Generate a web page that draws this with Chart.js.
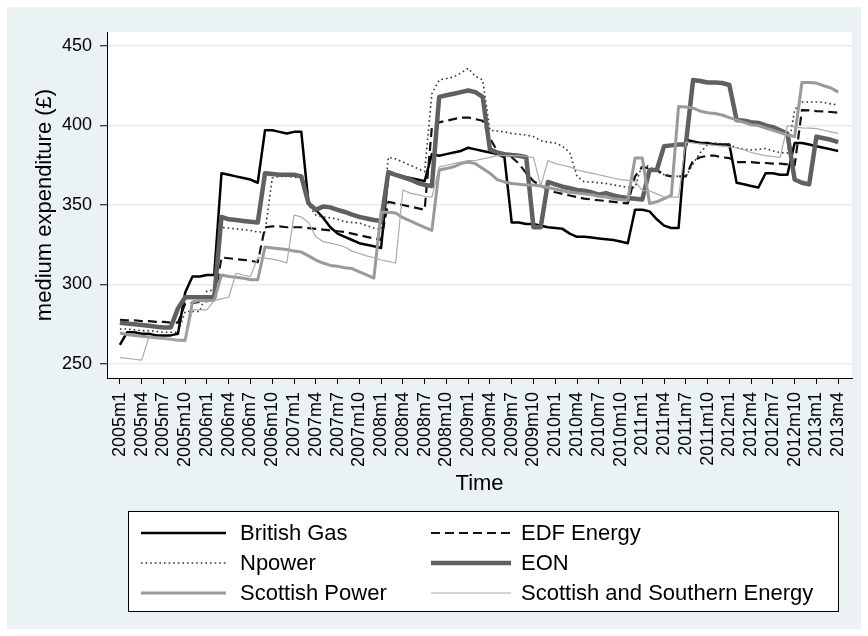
<!DOCTYPE html>
<html>
<head>
<meta charset="utf-8">
<script src="https://cdn.jsdelivr.net/npm/chart.js@4.4.1/dist/chart.umd.min.js"></script>
<style>
  html, body { margin: 0; padding: 0; background: #fff; }
  canvas { display: block; }
</style>
</head>
<body>
<canvas id="grafico" width="868" height="636"></canvas>
<script>
// Etiquetas del eje X (cada tres meses)
const etiquetasEje = ['2005m1', '2005m4', '2005m7', '2005m10', '2006m1', '2006m4', '2006m7', '2006m10',
  '2007m1', '2007m4', '2007m7', '2007m10', '2008m1', '2008m4', '2008m7', '2008m10',
  '2009m1', '2009m4', '2009m7', '2009m10', '2010m1', '2010m4', '2010m7', '2010m10',
  '2011m1', '2011m4', '2011m7', '2011m10', '2012m1', '2012m4', '2012m7', '2012m10',
  '2013m1', '2013m4'];
const ticksY = [250, 300, 350, 400, 450];

const nombres = ['British Gas', 'EDF Energy', 'Npower', 'EON', 'Scottish Power', 'Scottish and Southern Energy'];

// Un valor por mes, de 2005m1 a 2013m4 (una fila por año)
const britishGas = [
  262, 270, 270, 269, 269, 268, 268, 268, 269, 295, 305, 305,
  306, 306, 370, 369, 368, 367, 366, 364, 397, 397, 396, 395,
  396, 396, 351, 347, 342, 336, 332, 330, 328, 326, 325, 324,
  323, 370, 369, 368, 367, 366, 365, 382, 381, 382, 383, 384,
  386, 385, 384, 383, 382, 380, 339, 339, 338, 338, 337, 336,
  335.5, 335, 332, 330, 330, 329.5, 329, 328.5, 328, 327, 326, 347,
  347, 346, 341, 337, 335.5, 335.5, 391, 390, 389, 389, 388, 388,
  388, 364, 363, 362, 361, 370, 370, 369, 369, 389, 389, 388,
  387, 386, 385, 384
];
const edf = [
  277.7, 277.5, 277.5, 277, 277, 276.5, 276.5, 276, 276, 288, 288.5, 289,
  289.5, 290, 317, 316.5, 316, 315.5, 315, 314, 336, 336.5, 336.5, 336,
  336, 336, 335.5, 335, 334.5, 334, 333.5, 333, 332, 331, 330, 329,
  328, 352, 351, 350, 349, 348, 347, 399, 402, 403, 404, 405,
  405, 404, 403, 392, 384, 381, 380, 376, 370, 365, 362, 360,
  358, 357, 356, 355, 354, 353.5, 353, 352.5, 352, 351.5, 351, 368,
  374, 373, 372, 369, 368, 368, 368, 378, 380, 381, 381, 380,
  379.5, 377, 377, 377, 376.5, 376.4, 376, 376, 375.5, 375, 409.7, 409.5,
  409, 408.8, 408.5, 408
];
const npower = [
  272, 272, 271.5, 271, 271, 270.5, 270, 270, 270, 283, 283, 283,
  296, 296.5, 336, 335.5, 335, 334.5, 334, 333, 333, 367, 368, 368,
  367.5, 367, 350, 343.7, 342.5, 342, 341, 339.5, 339, 338.6, 337, 335.5,
  334.5, 380, 379, 377, 375, 373, 371, 420, 428.6, 429.5, 430.5, 433,
  436, 431, 428.6, 397, 396.5, 396, 395, 394.5, 394, 393, 390.5, 389.5,
  389, 387, 383, 368, 364.5, 364.5, 364, 363.5, 362.6, 362, 361, 361,
  376, 374, 371, 369, 368, 368, 368, 376, 383, 388, 389, 388.5,
  388, 386, 385, 384.6, 385, 385.5, 384, 383, 382.7, 410, 414.8, 414.8,
  414.8, 414.5, 413.5, 413
];
const eon = [
  276, 275.5, 275, 274.5, 274, 273.5, 273, 273, 285, 292, 292, 292,
  292, 292, 342.5, 341, 340.5, 340, 339.5, 339, 370, 369.5, 369, 369,
  369, 368, 351, 347, 349, 348.5, 347, 345.6, 344, 342.5, 341.5, 340.6,
  340, 370.7, 369, 367.6, 366, 364, 362.6, 362, 418, 419, 420, 421,
  422, 421, 418, 385, 383, 382, 381.4, 381, 380, 336, 336, 364.5,
  363, 361.5, 360.5, 359.5, 359, 358, 356.5, 357.5, 356, 355, 354.4, 354,
  353.5, 372, 372, 387, 387.5, 388, 388, 428.6, 428, 427, 427, 426.7,
  425.5, 403.5, 403, 402, 401.6, 400, 399, 397, 395, 366, 364, 363,
  393, 392, 391, 389.6
];
const scottishPower = [
  269.5, 268.5, 268, 267.5, 267, 266.5, 266, 265.5, 265, 265, 289, 290,
  290, 290, 306, 305, 304.5, 304, 303, 303, 323.6, 323, 322.5, 322,
  321, 320.4, 318, 315.4, 313.5, 312, 311.5, 310.5, 310, 308, 306, 304,
  345.6, 345.5, 345, 342, 340, 338, 336, 334, 372, 373, 374, 376,
  377, 376, 373, 370, 366, 364.5, 363.5, 363, 362.6, 362.6, 362, 361,
  360, 359, 358, 357.5, 357, 356.5, 355.5, 355, 354, 353.5, 353, 379.6,
  379.6, 351, 352, 354, 356, 412, 411.6, 411, 409, 408, 407.5, 406.6,
  405, 403.5, 402, 400.5, 400, 398.4, 397, 395.5, 394, 393, 427, 427,
  426.7, 425, 423.6, 421
];
const scottishSouthern = [
  254, 253.5, 253, 252.5, 267, 266.5, 266, 265.5, 265, 264, 284, 284,
  284, 290, 291, 292, 307, 306, 305, 317, 316.6, 316, 315, 313.5,
  343.7, 342.5, 339, 330, 327, 326, 325, 323.6, 321, 319.5, 318, 317,
  315.4, 314.5, 313.5, 359.4, 357.5, 356.5, 355.5, 355, 374, 375, 376, 377,
  378, 378, 379, 380, 381, 381, 381, 381, 380.5, 380, 362, 378,
  376, 375, 374, 372, 371, 370, 369, 368, 367, 366, 365.5, 365,
  359, 359, 357, 355, 355, 355, 389.6, 389, 388.5, 388, 387.5, 387,
  386.5, 386, 384.6, 383, 382, 381, 380.5, 380, 400, 399, 398.5, 398.4,
  398, 397, 396, 395
];

const series = [britishGas, edf, npower, eon, scottishPower, scottishSouthern];

// Estilo de cada línea (negro, discontinua, punteada, gris gruesa, gris media, gris fina)
const estilos = [
  { color: '#000000', ancho: 2.5, guion: [] },
  { color: '#111111', ancho: 2.2, guion: [9, 5] },
  { color: '#333333', ancho: 1.6, guion: [1.6, 3] },
  { color: '#606060', ancho: 4.5, guion: [] },
  { color: '#9a9a9a', ancho: 3, guion: [] },
  { color: '#ababab', ancho: 1.2, guion: [] }
];

function mesIndice(etiqueta) {
  const partes = etiqueta.split('m');
  return (Number(partes[0]) - 2005) * 12 + (Number(partes[1]) - 1);
}

Chart.defaults.font.family = '"Liberation Sans", Arial, sans-serif';
Chart.defaults.color = '#000';

// Fondo azul grisáceo y área del gráfico en blanco
const fondo = {
  id: 'fondo',
  beforeDraw(chart) {
    const { ctx, chartArea } = chart;
    ctx.save();
    ctx.fillStyle = '#ffffff';
    ctx.fillRect(0, 0, chart.width, chart.height);
    ctx.fillStyle = '#eaf2f3';
    ctx.fillRect(7, 7, chart.width - 14, chart.height - 14);
    ctx.fillStyle = '#ffffff';
    ctx.fillRect(chartArea.left, chartArea.top, chartArea.right - chartArea.left, chartArea.bottom - chartArea.top);
    ctx.restore();
  }
};

// Leyenda en caja, dos columnas
const leyenda = {
  id: 'leyenda',
  afterDraw(chart) {
    const ctx = chart.ctx;
    const caja = { x: 128, y: 511, w: 710, h: 100 };
    ctx.save();
    ctx.fillStyle = '#ffffff';
    ctx.fillRect(caja.x, caja.y, caja.w, caja.h);
    ctx.strokeStyle = '#000';
    ctx.lineWidth = 1;
    ctx.strokeRect(caja.x + 0.5, caja.y + 0.5, caja.w, caja.h);
    const columnas = [{ x1: 141, x2: 226, xt: 240 }, { x1: 431, x2: 511, xt: 521 }];
    chart.data.datasets.forEach((ds, i) => {
      const col = columnas[i % 2];
      const yy = 533 + Math.floor(i / 2) * 30;
      ctx.beginPath();
      ctx.strokeStyle = ds.borderColor;
      ctx.lineWidth = ds.borderWidth;
      ctx.setLineDash(ds.borderDash);
      ctx.moveTo(col.x1, yy);
      ctx.lineTo(col.x2, yy);
      ctx.stroke();
      ctx.setLineDash([]);
      ctx.fillStyle = '#000';
      ctx.font = '22px "Liberation Sans", Arial, sans-serif';
      ctx.textBaseline = 'middle';
      ctx.fillText(ds.label, col.xt, yy + 1);
    });
    ctx.restore();
  }
};

new Chart(document.getElementById('grafico'), {
  type: 'line',
  data: {
    datasets: series.map((s, i) => ({
      label: nombres[i],
      data: s.map((v, mes) => ({ x: mes, y: v })),
      borderColor: estilos[i].color,
      borderWidth: estilos[i].ancho,
      borderDash: estilos[i].guion,
      borderJoinStyle: 'round',
      pointRadius: 0,
      tension: 0,
      fill: false,
      order: series.length - i
    }))
  },
  options: {
    responsive: false,
    animation: false,
    events: [],
    layout: { padding: { top: 32, right: 11, bottom: 0, left: 0 } },
    plugins: {
      legend: { display: false },
      tooltip: { enabled: false }
    },
    scales: {
      x: {
        type: 'linear',
        min: -1.78,
        max: 100.92,
        afterBuildTicks: s => { s.ticks = etiquetasEje.map(e => ({ value: mesIndice(e) })); },
        afterFit: s => { s.height = 258; },
        grid: { drawOnChartArea: false, tickLength: 6, tickColor: '#000', tickWidth: 1 },
        border: { color: '#000', width: 1 },
        ticks: {
          autoSkip: false, minRotation: 90, maxRotation: 90, padding: 8,
          font: { size: 18 }, color: '#000',
          callback: (v, i) => etiquetasEje[i]
        },
        title: { display: true, text: 'Time', font: { size: 22 }, color: '#000', padding: { top: 0, bottom: 139 } }
      },
      y: {
        min: 241.2,
        max: 458.8,
        afterBuildTicks: s => { s.ticks = ticksY.map(v => ({ value: v })); },
        afterFit: s => { s.width = 107; },
        grid: { color: '#e4eef0', lineWidth: 1.5, tickLength: 7, tickColor: '#000', tickWidth: 1 },
        border: { color: '#000', width: 1 },
        ticks: { padding: 8, font: { size: 18 }, color: '#000' },
        title: { display: true, text: 'medium expenditure (£)', font: { size: 22 }, color: '#000', padding: { top: 32, bottom: 0 } }
      }
    }
  },
  plugins: [fondo, leyenda]
});
</script>
</body>
</html>
